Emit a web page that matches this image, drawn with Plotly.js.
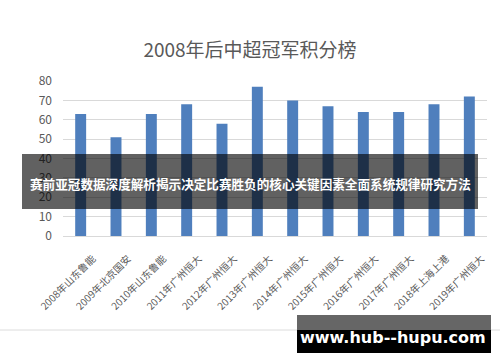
<!DOCTYPE html>
<html>
<head>
<meta charset="utf-8">
<script src="https://cdn.plot.ly/plotly-3.0.1.min.js"></script>
<style>
html,body{margin:0;padding:0;background:#fff;}
#chart{width:500px;height:362px;}
</style>
</head>
<body>
<div id="chart"></div>
<script>
const categories = ["2008年山东鲁能","2009年北京国安","2010年山东鲁能","2011年广州恒大","2012年广州恒大","2013年广州恒大","2014年广州恒大","2015年广州恒大","2016年广州恒大","2017年广州恒大","2018年上海上港","2019年广州恒大"];
const points = [63, 51, 63, 68, 58, 77, 70, 67, 64, 64, 68, 72];
const yTicks = [0, 10, 20, 30, 40, 50, 60, 70, 80];
const titleText = "2008年后中超冠军积分榜";
const bannerText = "赛前亚冠数据深度解析揭示决定比赛胜负的核心关键因素全面系统规律研究方法";
const watermarkText = "www.hub--hupu.com";

const M = {l:63, r:13, t:81, b:126};
const W = 500, H = 362;
const pw = W - M.l - M.r, ph = H - M.t - M.b;
const px = x => (x - M.l) / pw;
const py = y => (H - M.b - y) / ph;

const font = '"Noto Sans CJK SC", "Noto Sans", sans-serif';

const trace = {
  type: 'bar',
  x: categories,
  y: points,
  marker: {color: '#4f7fbd'},
  width: 0.31,
  hoverinfo: 'skip'
};

const layout = {
  width: W, height: H,
  margin: M,
  paper_bgcolor: '#fff',
  plot_bgcolor: '#fff',
  showlegend: false,
  font: {family: font, color: '#595959'},
  title: {
    text: titleText,
    x: 0.5, xanchor: 'center', xref: 'container',
    y: 1 - 50 / H, yanchor: 'middle', yref: 'container',
    font: {family: font, size: 19, color: '#595959'}
  },
  xaxis: {
    type: 'category',
    tickangle: -45,
    tickfont: {family: font, size: 10, color: '#595959'},
    showgrid: false,
    showline: true,
    linecolor: '#d9d9d9',
    linewidth: 1,
    ticks: '',
    ticklabelstandoff: 12,
    ticklabelshift: 12,
    fixedrange: true
  },
  yaxis: {
    range: [0, 80],
    tickvals: yTicks,
    ticktext: yTicks.map(String),
    tickfont: {family: font, size: 12, color: '#595959'},
    showgrid: true,
    gridcolor: '#d9d9d9',
    gridwidth: 1,
    zeroline: false,
    showline: false,
    ticks: '',
    ticklabelstandoff: 10,
    fixedrange: true
  },
  shapes: [
    {type:'line', xref:'paper', yref:'paper', x0: px(0), x1: px(500), y0: py(330), y1: py(330),
     line:{color:'#dcdcdc', width:1}, layer:'above'},
    {type:'rect', xref:'paper', yref:'paper', x0: px(22), x1: px(478), y0: py(209), y1: py(154),
     fillcolor:'rgba(0,0,0,0.62)', line:{width:0}, layer:'above'},
    {type:'rect', xref:'paper', yref:'paper', x0: px(297), x1: px(491), y0: py(330), y1: py(315),
     fillcolor:'#666666', line:{width:0}, layer:'above'},
    {type:'rect', xref:'paper', yref:'paper', x0: px(297), x1: px(491), y0: py(353), y1: py(330),
     fillcolor:'#000000', line:{width:0}, layer:'above'}
  ],
  annotations: [
    {xref:'paper', yref:'paper', x: px(250), y: py(183), xanchor:'center', yanchor:'middle',
     text: '<b>' + bannerText + '</b>', showarrow:false,
     font:{family: font, size: 12.6, color:'#ffffff'}},
    {xref:'paper', yref:'paper', x: px(393), y: py(337), xanchor:'center', yanchor:'middle',
     text: '<b>' + watermarkText + '</b>', showarrow:false,
     font:{family: '"DejaVu Sans", sans-serif', size: 16, color:'#ffffff'}}
  ]
};

Plotly.newPlot('chart', [trace], layout, {displayModeBar: false, staticPlot: true});
</script>
</body>
</html>
